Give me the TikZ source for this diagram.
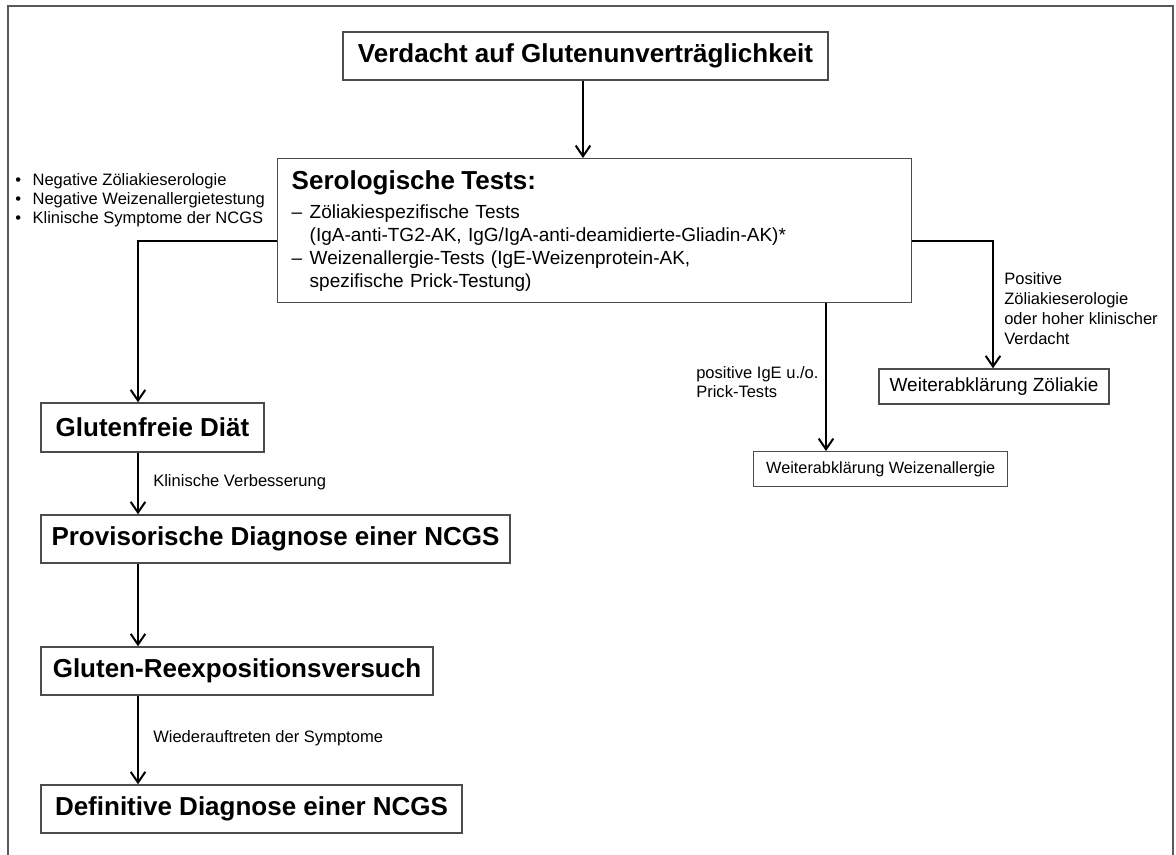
\documentclass[tikz,border=0pt]{standalone}
\usepackage{fontspec}
\setmainfont{Liberation Sans}
\usetikzlibrary{arrows.meta}
\definecolor{boxgray}{gray}{0.3}
\definecolor{framegray}{gray}{0.35}
\begin{document}
\begin{tikzpicture}[x=0.75pt,y=-0.75pt,
  boxb/.style={draw=boxgray, line width=1.1pt, inner sep=0pt, align=center,
    font=\fontsize{19.5}{23}\selectfont\bfseries},
  boxr/.style={draw=boxgray, line width=1.1pt, inner sep=0pt,
    font=\fontsize{14.25}{17.25}\selectfont},
  lab/.style={inner sep=0pt, anchor=west, align=left,
    font=\fontsize{12.4}{15}\selectfont},
  conn/.style={line width=1.5pt, -{Straight Barb[length=8pt,width=11pt]}}]
\useasboundingbox (0,0) rectangle (1176,855);
\draw[framegray, line width=1.5pt] (8,855) -- (8,6) -- (1173,6) -- (1173,855);

% main boxes
\node[boxb, minimum width=363.75pt, minimum height=36pt] (b1) at (585.5,56) {Verdacht auf Glutenunverträglichkeit};
\node[boxr, anchor=north west, minimum height=108pt, text width=454.5pt, inner xsep=10.5pt, align=left] (b2) at (277,158)
  {{\fontsize{19.5}{23}\selectfont\bfseries Serologische Tests:}\\[4.5pt]
   \makebox[13.5pt][l]{–}Zöliakiespezifische Tests\\
   \hspace*{13.5pt}(IgA-anti-TG2-AK, IgG/IgA-anti-deamidierte-Gliadin-AK)*\\
   \makebox[13.5pt][l]{–}Weizenallergie-Tests (IgE-Weizenprotein-AK,\\
   \hspace*{13.5pt}spezifische Prick-Testung)};
\node[boxr, minimum width=172.5pt, minimum height=26.25pt] (zoel) at (994,386.5) {Weiterabklärung Zöliakie};
\node[boxr, anchor=north west, minimum width=190.5pt, minimum height=26.25pt, font=\fontsize{12.2}{14}\selectfont] (wa) at (753,451) {Weiterabklärung Weizenallergie};

\node[boxb, minimum width=167.25pt, minimum height=36.75pt] (gf) at (152.5,427.5) {Glutenfreie Diät};
\node[boxb, minimum width=351.75pt, minimum height=36pt] (prov) at (275.5,539) {Provisorische Diagnose einer NCGS};
\node[boxb, minimum width=294pt, minimum height=36pt] (reex) at (237,671) {Gluten-Reexpositionsversuch};
\node[boxb, minimum width=315.75pt, minimum height=36pt] (defi) at (251.5,809) {Definitive Diagnose einer NCGS};

% labels
\node[lab, font=\fontsize{12.4}{14.25}\selectfont] (bul) at (15,200)
  {\makebox[13pt][l]{•}Negative Zöliakieserologie\\
   \makebox[13pt][l]{•}Negative Weizenallergietestung\\
   \makebox[13pt][l]{•}Klinische Symptome der NCGS};
\node[lab, font=\fontsize{12.4}{15}\selectfont] (pos) at (1004,309)
  {Positive\\Zöliakieserologie\\oder hoher klinischer\\Verdacht};
\node[lab, font=\fontsize{12.4}{14.25}\selectfont] (ige) at (696,382.5)
  {positive IgE u./o.\\Prick-Tests};
\node[lab] (kv) at (153,482) {Klinische Verbesserung};
\node[lab] (ws) at (153,738) {Wiederauftreten der Symptome};

% connectors
\coordinate (lc) at (138,241);
\coordinate (rc) at (993,241);
\coordinate (mc) at (826,302);
\draw[conn] (b1.south -| 583,0) -- (b2.north -| 583,0);
\draw[conn] (lc -| b2.west) -- (lc) -- (lc |- gf.north);
\draw[conn] (rc -| b2.east) -- (rc) -- (rc |- zoel.north);
\draw[conn] (mc |- b2.south) -- (mc |- wa.north);
\draw[conn] (lc |- gf.south) -- (lc |- prov.north);
\draw[conn] (lc |- prov.south) -- (lc |- reex.north);
\draw[conn] (lc |- reex.south) -- (lc |- defi.north);
\end{tikzpicture}
\end{document}
